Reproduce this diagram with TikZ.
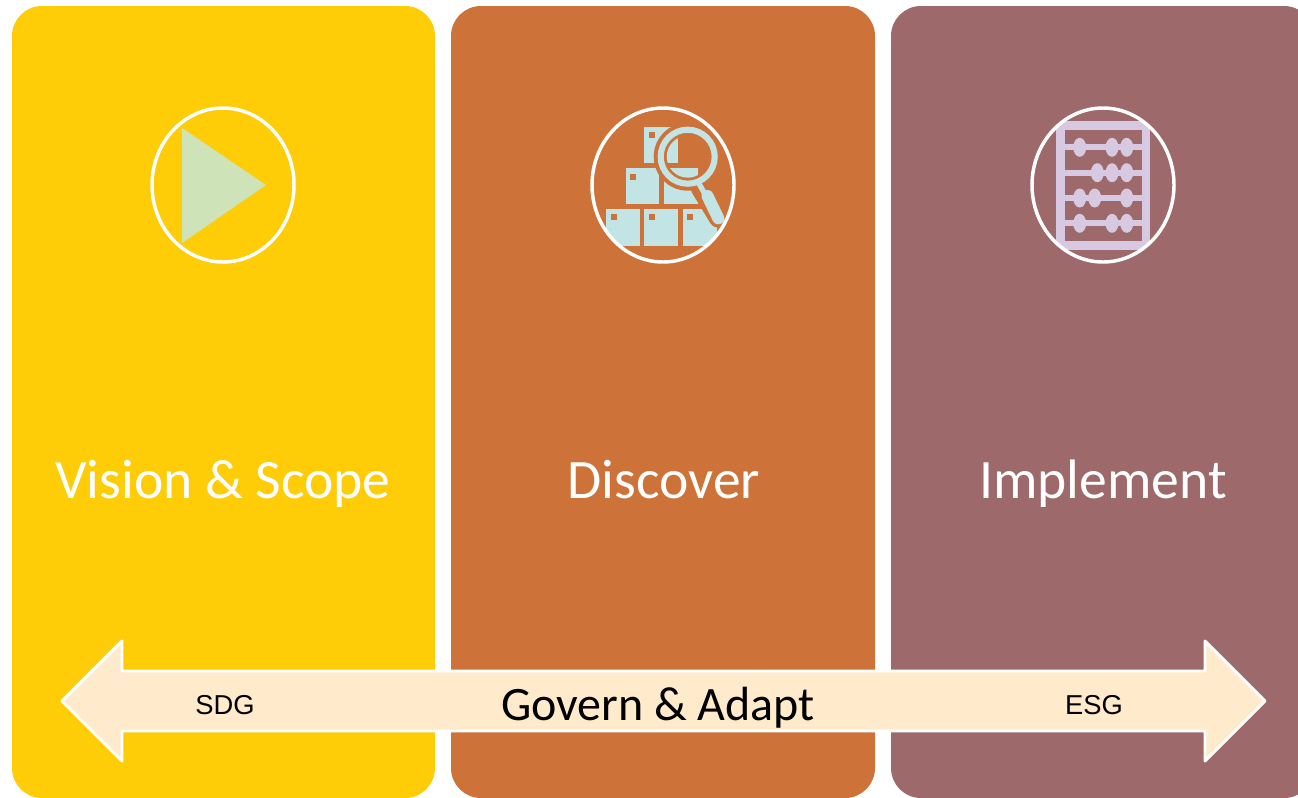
\documentclass[tikz,border=0pt]{standalone}
\usepackage{fontspec}
\setmainfont{Carlito}
\newfontfamily\smallfont{Liberation Sans}

\definecolor{visionyellow}{HTML}{FFCC08}
\definecolor{discoverorange}{HTML}{CD7339}
\definecolor{implementmauve}{HTML}{9E696A}
\definecolor{playgreen}{HTML}{CFE3B8}
\definecolor{boxteal}{HTML}{C2E4E4}
\definecolor{abacuslilac}{HTML}{D8C9E2}
\definecolor{arrowcream}{HTML}{FFEBCC}

\tikzset{
    panel/.style={rounded corners=22.5pt},
    ring/.style={draw=white, line width=2.6pt},
    phase/.style={anchor=base, text=white, font=\fontsize{41.7}{41.7}\selectfont},
    tag/.style={anchor=base, text=black, font=\smallfont\fontsize{20.5}{20.5}\selectfont},
    govern/.style={anchor=base, text=black, font=\fontsize{36}{36}\selectfont},
    crate/.style={fill=boxteal},
    label mark/.style={fill=discoverorange},
    rod/.style={draw=abacuslilac, line width=4.5pt},
    bead/.style={fill=abacuslilac}
}

\begin{document}
\begin{tikzpicture}[x=0.75pt, y=-0.75pt]
    \useasboundingbox (0, 0) rectangle (1298, 797);
    \clip (0, 0) rectangle (1298, 797);
    \fill[white] (0, 0) rectangle (1298, 797);

    % panels
    \fill[panel, visionyellow] (12, 6) rectangle (435, 798);
    \fill[panel, discoverorange] (451, 6) rectangle (875, 798);
    \fill[panel, implementmauve] (891, 6) rectangle (1314, 798);

    % play icon
    \fill[playgreen] (182, 128) -- (266, 185) -- (182, 243) -- cycle;
    \draw[ring] (223, 185) ellipse (71 and 77);

    % crates and magnifier
    \begin{scope}
        \clip (663, 185) ellipse (71 and 77);
        \fill[crate] (644.3, 126.7) rectangle (678.3, 163);
        \fill[crate] (625.7, 167.7) rectangle (659.3, 204.3);
        \fill[crate] (663.7, 167.7) rectangle (697.7, 204.3);
        \fill[crate] (606.3, 209) rectangle (640.3, 245.7);
        \fill[crate] (644.3, 209) rectangle (678.3, 245.7);
        \fill[crate] (682.7, 209) rectangle (716.7, 245.7);
        \fill[label mark] (649, 132) rectangle (655, 138);
        \fill[label mark] (630, 174) rectangle (636, 180);
        \fill[label mark] (611, 214) rectangle (617, 220);
        \fill[label mark] (649, 214) rectangle (655, 220);
        \fill[label mark] (687, 214) rectangle (693, 220);
    \end{scope}
    \fill[discoverorange] (687.7, 156.7) circle (34);
    \draw[discoverorange, line width=14pt, line cap=round] (700, 188) -- (718.3, 218.3);
    \begin{scope}
        \clip (687.7, 156.7) circle (21);
        \fill[crate] (644.3, 126.7) rectangle (678.3, 163);
        \fill[crate] (663.7, 167.7) rectangle (697.7, 204.3);
    \end{scope}
    \draw[boxteal, line width=4.6pt] (687.7, 156.7) circle (27);
    \draw[boxteal, line width=4pt] (698, 182) -- (706, 196);
    \draw[boxteal, line width=9pt, line cap=round] (707.5, 196) -- (718.3, 218.3);
    \draw[ring] (663, 185) ellipse (71 and 77);

    % abacus
    \begin{scope}
        \clip (1103, 185) ellipse (71 and 77);
        \draw[abacuslilac, line width=6.5pt] (1060.7, 125.5) rectangle (1146, 245.5);
        \draw[rod] (1060, 147.3) -- (1146, 147.3);
        \draw[rod] (1060, 172.7) -- (1146, 172.7);
        \draw[rod] (1060, 198) -- (1146, 198);
        \draw[rod] (1060, 223.3) -- (1146, 223.3);
    \end{scope}
    \fill[bead] (1079.7, 147.3) ellipse (6.5 and 9.5);
    \fill[bead] (1112, 147.3) ellipse (6.5 and 9.5);
    \fill[bead] (1126.7, 147.3) ellipse (6.5 and 9.5);
    \fill[bead] (1097.3, 172.7) ellipse (6.5 and 9.5);
    \fill[bead] (1112, 172.7) ellipse (6.5 and 9.5);
    \fill[bead] (1126.7, 172.7) ellipse (6.5 and 9.5);
    \fill[bead] (1079.7, 198) ellipse (6.5 and 9.5);
    \fill[bead] (1094.7, 198) ellipse (6.5 and 9.5);
    \fill[bead] (1126.7, 198) ellipse (6.5 and 9.5);
    \fill[bead] (1079.7, 223.3) ellipse (6.5 and 9.5);
    \fill[bead] (1112, 223.3) ellipse (6.5 and 9.5);
    \fill[bead] (1126.7, 223.3) ellipse (6.5 and 9.5);
    \draw[ring] (1103, 185) ellipse (71 and 77);

    \node[phase] (vision) at (223, 498) {Vision \& Scope};
    \node[phase] (discover) at (664, 498) {Discover};
    \node[phase] (implement) at (1103, 498) {Implement};

    % double arrow
    \draw[draw=white, fill=arrowcream, line width=2.2pt, line join=round]
        (62, 701) -- (122, 641) -- (122, 671) -- (1205, 671) -- (1205, 641)
        -- (1265, 701) -- (1205, 761) -- (1205, 731) -- (122, 731) -- (122, 761) -- cycle;
    \node[tag] (sdg) at (225, 714) {SDG};
    \node[govern] (adapt) at (658, 720) {Govern \& Adapt};
    \node[tag] (esg) at (1094, 714) {ESG};
\end{tikzpicture}
\end{document}
